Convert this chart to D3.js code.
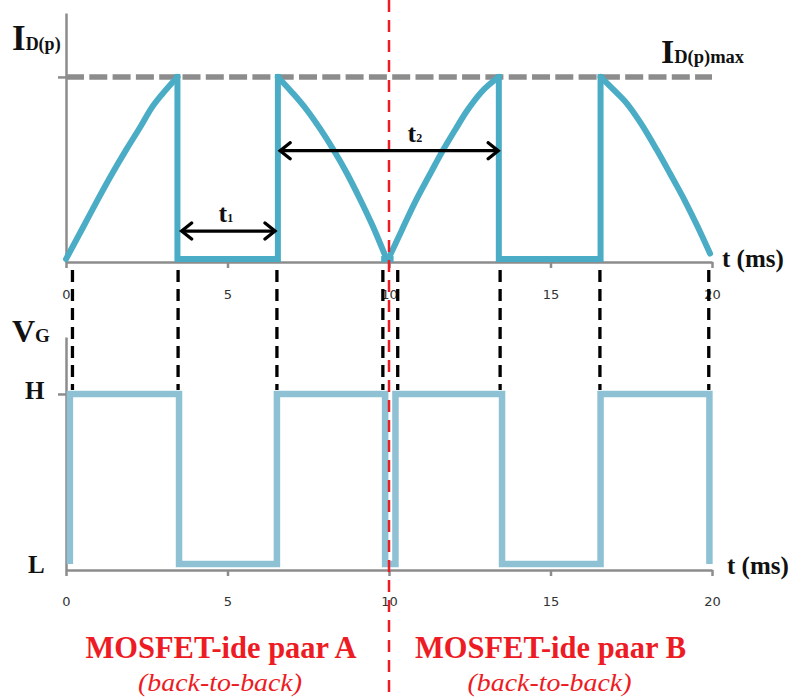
<!DOCTYPE html>
<html>
<head>
<meta charset="utf-8">
<script src="https://cdn.jsdelivr.net/npm/d3@7"></script>
<style>
  body { margin: 0; background: #fff; }
  svg { display: block; }
</style>
</head>
<body>
<div id="chart"></div>
<script>
// data (t in ms, levels relative to I_D(p)max / H)
const tTicks = [0, 5, 10, 15, 20]
const idRamps = [
  [[0, 0], [0.5, 0.165], [0.95, 0.315], [1.4, 0.46], [1.88, 0.605], [2.3, 0.725], [2.65, 0.83], [3.0, 0.91], [3.45, 1]],
  [[6.56, 1], [7.0, 0.915], [7.45, 0.82], [7.85, 0.72], [8.28, 0.6], [8.7, 0.47], [9.1, 0.33], [9.5, 0.18], [9.88, 0.02]],
  [[10.03, 0.02], [10.4, 0.16], [10.8, 0.31], [11.25, 0.46], [11.68, 0.6], [12.05, 0.71], [12.4, 0.81], [12.85, 0.915], [13.4, 1]],
  [[16.55, 1], [16.95, 0.93], [17.36, 0.855], [17.8, 0.745], [18.29, 0.6], [18.7, 0.47], [19.16, 0.32], [19.55, 0.18], [19.94, 0.03]]
]
const idOffSteps = [
  [[3.45, 1], [3.45, 0], [6.56, 0], [6.56, 1]],
  [[9.85, 0], [10.05, 0]],
  [[13.4, 1], [13.4, 0], [16.55, 0], [16.55, 1]]
]
const vgTrace = [
  [0.12, 0], [0.12, 1], [3.5, 1], [3.5, 0], [6.53, 0], [6.53, 1], [9.88, 1], [9.88, 0],
  [10.2, 0], [10.2, 1], [13.5, 1], [13.5, 0], [16.55, 0], [16.55, 1], [19.92, 1], [19.92, 0]
]
const gateEdges = [0.2, 3.47, 6.53, 9.81, 10.27, 13.44, 16.53, 19.9]
const pairSplit = 10
const pairLabels = ["MOSFET-ide paar A", "MOSFET-ide paar B"]
const pairSubLabels = ["(back-to-back)", "(back-to-back)"]
const pairCenters = [4.8, 15.0]
const spans = [
  { name: "1", from: 3.58, to: 6.47, level: 0.154, labelAt: 4.95 },
  { name: "2", from: 6.63, to: 13.38, level: 0.595, labelAt: 10.8 }
]

function drawChart() {
  // 1. dimensions
  let dimensions = { width: 791, height: 699 }
  const serif = "'Liberation Serif', 'Times New Roman', serif"

  const wrapper = d3.select("#chart")
    .append("svg")
      .attr("width", dimensions.width)
      .attr("height", dimensions.height)
      .style("font-family", serif)

  // 2. scales
  const xScale = d3.scaleLinear()
    .domain([0, 20])
    .range([66, 712])

  const yTop = d3.scaleLinear()
    .domain([-0.016, 1.351])
    .range([262, 13])

  const yBot = d3.scaleLinear()
    .domain([-0.035, 1.335])
    .range([570, 337])

  const axisGrey = "#8c8c8c"
  const idColor = "#4bacc6"
  const vgColor = "#8fc1d4"
  const red = "#ed1c24"

  // 3. axes
  const styleAxis = g => {
    g.selectAll("path, line").attr("stroke", axisGrey).attr("stroke-width", 2.5)
    g.selectAll("text")
      .attr("fill", "#333")
      .style("font-family", "'DejaVu Sans', Verdana, sans-serif")
      .style("font-size", "13px")
  }

  wrapper.append("g")
    .attr("transform", `translate(0, ${yTop.range()[0]})`)
    .call(d3.axisBottom(xScale).tickValues(tTicks).tickSize(6).tickSizeOuter(0).tickPadding(22))
    .call(styleAxis)

  wrapper.append("g")
    .attr("transform", `translate(0, ${yBot.range()[0]})`)
    .call(d3.axisBottom(xScale).tickValues(tTicks).tickSize(6).tickSizeOuter(0).tickPadding(21))
    .call(styleAxis)

  wrapper.append("g")
    .attr("transform", `translate(${xScale(0)}, 0)`)
    .call(d3.axisLeft(yTop).tickValues([1]).tickSize(8).tickSizeOuter(0).tickFormat(""))
    .call(styleAxis)

  wrapper.append("g")
    .attr("transform", `translate(${xScale(0)}, 0)`)
    .call(d3.axisLeft(yBot).tickValues([1]).tickSize(8).tickSizeOuter(0).tickFormat(""))
    .call(styleAxis)

  // I_D(p)max reference line
  wrapper.append("line")
    .attr("x1", xScale(0)).attr("x2", xScale(20))
    .attr("y1", yTop(1)).attr("y2", yTop(1))
    .attr("stroke", axisGrey)
    .attr("stroke-width", 5.5)
    .attr("stroke-dasharray", "18,5.3")

  // 4. traces
  const rampLine = d3.line().x(d => xScale(d[0])).y(d => yTop(d[1])).curve(d3.curveMonotoneX)
  const stepLine = d3.line().x(d => xScale(d[0])).y(d => yTop(d[1]))
  const lineBot = d3.line().x(d => xScale(d[0])).y(d => yBot(d[1]))

  wrapper.selectAll(".ramp")
    .data(idRamps)
    .enter().append("path")
      .attr("d", rampLine)
      .attr("fill", "none")
      .attr("stroke", idColor)
      .attr("stroke-width", 6)
      .attr("stroke-linecap", "round")

  wrapper.selectAll(".step")
    .data(idOffSteps)
    .enter().append("path")
      .attr("d", stepLine)
      .attr("fill", "none")
      .attr("stroke", idColor)
      .attr("stroke-width", 6)
      .attr("stroke-linejoin", "miter")
      .attr("stroke-linecap", "square")

  wrapper.append("path")
    .datum(vgTrace)
    .attr("d", lineBot)
    .attr("fill", "none")
    .attr("stroke", vgColor)
    .attr("stroke-width", 6.5)
    .attr("stroke-linejoin", "miter")

  // gate edge guides
  wrapper.selectAll(".edge")
    .data(gateEdges)
    .enter().append("line")
      .attr("class", "edge")
      .attr("x1", d => xScale(d)).attr("x2", d => xScale(d))
      .attr("y1", yTop.range()[0] + 8)
      .attr("y2", yBot(1) - 4)
      .attr("stroke", "#000")
      .attr("stroke-width", 3.3)
      .attr("stroke-dasharray", "12,7")

  // pair split line
  wrapper.append("line")
    .attr("x1", xScale(pairSplit)).attr("x2", xScale(pairSplit))
    .attr("y1", 0).attr("y2", dimensions.height)
    .attr("stroke", red)
    .attr("stroke-width", 2.5)
    .attr("stroke-dasharray", "12,8")

  // 5. span arrows
  const defs = wrapper.append("defs")
  const addMarker = (id, path) => defs.append("marker")
    .attr("id", id)
    .attr("markerUnits", "userSpaceOnUse")
    .attr("viewBox", "-12 -10 24 20")
    .attr("markerWidth", 24).attr("markerHeight", 20)
    .attr("orient", "auto")
    .append("path")
      .attr("d", path)
      .attr("fill", "none")
      .attr("stroke", "#000")
      .attr("stroke-width", 3.3)
      .attr("stroke-linecap", "round")
  addMarker("head", "M-10,-8 L0,0 L-10,8")
  addMarker("tail", "M10,-8 L0,0 L10,8")

  wrapper.selectAll(".span")
    .data(spans)
    .enter().append("line")
      .attr("x1", d => xScale(d.from)).attr("x2", d => xScale(d.to))
      .attr("y1", d => yTop(d.level)).attr("y2", d => yTop(d.level))
      .attr("stroke", "#000")
      .attr("stroke-width", 3.3)
      .attr("marker-start", "url(#tail)")
      .attr("marker-end", "url(#head)")

  const spanText = wrapper.selectAll(".spanlabel")
    .data(spans)
    .enter().append("text")
      .attr("x", d => xScale(d.labelAt))
      .attr("y", d => yTop(d.level) - 9)
      .attr("text-anchor", "middle")
      .attr("font-weight", "bold")
      .attr("font-family", serif)
      .attr("fill", "#111")
  spanText.append("tspan").attr("font-size", 26).text("t")
  spanText.append("tspan").attr("font-size", 12).text(d => d.name)

  // 6. labels
  const label = (x, y, big, small, bigSize, smallSize) => {
    const t = wrapper.append("text")
      .attr("x", x).attr("y", y)
      .attr("font-weight", "bold")
      .attr("font-family", serif)
      .attr("fill", "#111")
    t.append("tspan").attr("font-size", bigSize).text(big)
    if (small) t.append("tspan").attr("font-size", smallSize).text(small)
  }
  label(12, 50, "I", "D(p)", 35, 18)
  label(661, 63, "I", "D(p)max", 34, 18.5)
  label(12, 342, "V", "G", 32, 19)
  label(25, 399, "H", null, 25)
  label(28, 573, "L", null, 25)
  label(722, 267, "t (ms)", null, 25)
  label(727, 574, "t (ms)", null, 25)

  wrapper.selectAll(".pair")
    .data(pairLabels)
    .enter().append("text")
      .attr("x", (d, i) => xScale(pairCenters[i]))
      .attr("y", 658)
      .attr("text-anchor", "middle")
      .attr("font-family", serif)
      .attr("font-weight", "bold")
      .attr("font-size", 32)
      .attr("fill", red)
      .attr("textLength", 271)
      .attr("lengthAdjust", "spacingAndGlyphs")
      .text(d => d)

  wrapper.selectAll(".pairsub")
    .data(pairSubLabels)
    .enter().append("text")
      .attr("x", (d, i) => xScale(pairCenters[i]) - 1)
      .attr("y", 691)
      .attr("text-anchor", "middle")
      .attr("font-family", serif)
      .attr("font-style", "italic")
      .attr("font-size", 25)
      .attr("fill", red)
      .attr("textLength", 164)
      .attr("lengthAdjust", "spacingAndGlyphs")
      .text(d => d)
}
drawChart()
</script>
</body>
</html>
